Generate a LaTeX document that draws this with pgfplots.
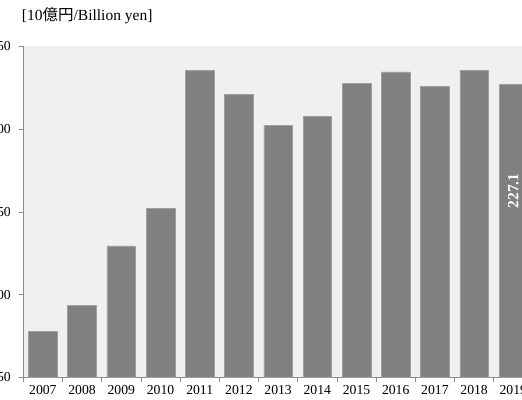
\documentclass[border=0pt]{standalone}
\usepackage{fontspec}
\setmainfont{Liberation Serif}
\newfontfamily\cjk{Noto Sans CJK JP}
\usepackage{pgfplots}
\pgfplotsset{compat=1.18}
\definecolor{barfill}{HTML}{808080}
\definecolor{baredge}{HTML}{A0A0A0}
\definecolor{plotbg}{HTML}{F0F0F0}
\definecolor{axisgray}{HTML}{8C8C8C}
\begin{document}
\begin{tikzpicture}
\begin{axis}[
  at={(0,0)}, anchor=south west,
  scale only axis, width=509.6bp, height=331bp,
  xmin=-0.5, xmax=12.5, ymin=50, ymax=250,
  ytick={50,100,150,200,250},
  xtick={0,1,2,3,4,5,6,7,8,9,10,11,12},
  xticklabels={2007,2008,2009,2010,2011,2012,2013,2014,2015,2016,2017,2018,2019},
  minor xtick={-0.5,0.5,1.5,2.5,3.5,4.5,5.5,6.5,7.5,8.5,9.5,10.5,11.5,12.5},
  axis x line*=bottom, axis y line*=left,
  axis line style={axisgray, line width=0.8bp, -},
  axis background/.style={fill=plotbg},
  tick align=outside,
  major tick length=4bp, minor tick length=4bp,
  major x tick style={draw=none},
  minor x tick style={axisgray, line width=0.8bp},
  major y tick style={axisgray, line width=0.8bp},
  tick label style={font=\fontsize{13.7bp}{16bp}\selectfont, black},
  yticklabel style={xshift=-5bp},
  /pgf/number format/assume math mode=true,
  ybar, bar width=28.6bp,
]
\addplot[fill=barfill, draw=baredge, line width=0.6bp] coordinates {
  (0,77.7) (1,93.8) (2,129.5) (3,152.2) (4,235.8) (5,220.9) (6,202.4)
  (7,207.8) (8,227.5) (9,234.6) (10,226.1) (11,235.8) (12,227.1)
};
\node[rotate=90, text=white, font=\bfseries\fontsize{15.5bp}{18bp}\selectfont] at (axis cs:12,162.7) {227.1};
\end{axis}
\node[anchor=west, inner sep=0pt, font=\fontsize{15.5bp}{17bp}\selectfont] at (-1.5bp,361.5bp) {[10{\cjk 億円}/Billion yen]};
\pgfresetboundingbox
\useasboundingbox (-23.3bp,-22.5bp) rectangle (498.7bp,377.5bp);
\end{tikzpicture}
\end{document}
